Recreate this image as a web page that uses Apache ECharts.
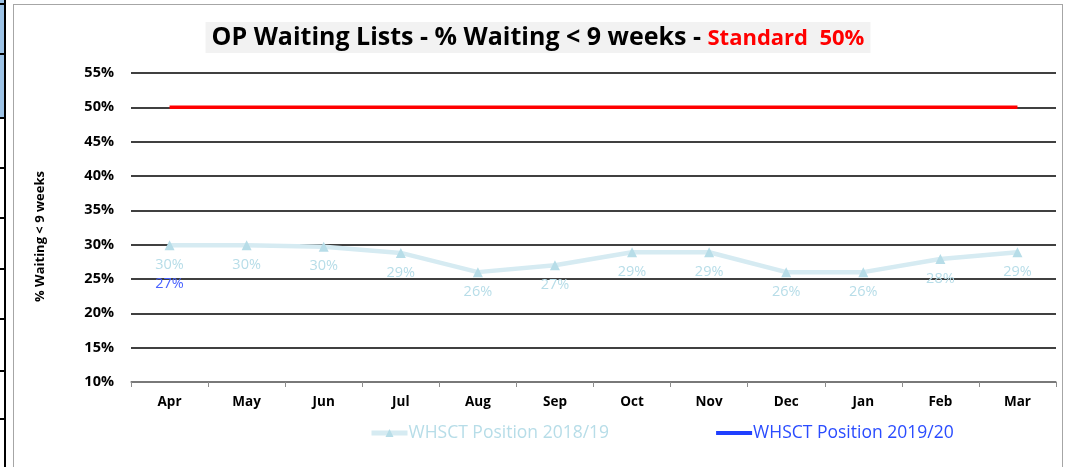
<!DOCTYPE html>
<html>
<head>
<meta charset="utf-8">
<script src="https://cdn.jsdelivr.net/npm/echarts@6/dist/echarts.min.js"></script>
<style>
	html, body { margin: 0; padding: 0; background: #fff; }
	#cells { position: absolute; left: 0; top: 0; width: 4px; height: 467px; border-right: 2px solid #000; }
	#cells .blue { position: absolute; left: 0; top: 0; width: 4px; height: 117px; background: #9dc3e6; }
	#cells .hl { position: absolute; left: 0; width: 4px; height: 2px; background: #000; }
	#main { position: absolute; left: 13px; top: 4px; width: 1048px; height: 470px; border: 1px solid #a6a6a6; background: #fff; }
</style>
</head>
<body>
<div id="cells"><div class="blue"></div></div>
<div id="main"></div>
<script>
	//月份
	var months = ['Apr', 'May', 'Jun', 'Jul', 'Aug', 'Sep', 'Oct', 'Nov', 'Dec', 'Jan', 'Feb', 'Mar'];
	//2018/19 数据
	var pos1819 = [29.9, 29.9, 29.7, 28.8, 26.0, 27.0, 28.9, 28.9, 26.0, 26.0, 27.9, 28.9];
	//2019/20 数据（只有四月）
	var pos1920 = [27, null, null, null, null, null, null, null, null, null, null, null];
	//标准线
	var standard = [50, 50, 50, 50, 50, 50, 50, 50, 50, 50, 50, 50];
	var yTicks = [10, 15, 20, 25, 30, 35, 40, 45, 50, 55];

	//左边表格的横线
	(function() {
		var cells = document.getElementById('cells');
		var ys = [3, 53, 117, 167, 217, 268, 318, 370, 418];
		for (var i = 0; i < ys.length; i++) {
			var d = document.createElement('div');
			d.className = 'hl';
			d.style.top = ys[i] + 'px';
			cells.appendChild(d);
		}
	})();

	var font = '"Open Sans", "Liberation Sans", sans-serif';
	var myChart = echarts.init(document.getElementById('main'));
	myChart.setOption({
		animation: false,
		textStyle: { fontFamily: font },
		title: {
			text: '{b|OP Waiting Lists - % Waiting < 9 weeks - }{r|Standard  50%}',
			left: 'center',
			top: 17,
			backgroundColor: '#f2f2f2',
			padding: [3, 6, 3, 6],
			textStyle: {
				rich: {
					b: { fontFamily: font, fontSize: 25, fontWeight: 'bold', color: '#000' },
					r: { fontFamily: font, fontSize: 22, fontWeight: 'bold', color: '#ff0000', padding: [3, 0, 0, 0] }
				}
			}
		},
		legend: {
			left: 350,
			bottom: 28,
			itemGap: 105,
			itemWidth: 36,
			itemHeight: 10,
			data: [
				{ name: 'WHSCT Position 2018/19', textStyle: { color: '#b7dde8' }, lineStyle: { width: 5 } },
				{ name: 'WHSCT Position 2019/20', textStyle: { color: '#2a4cff' }, lineStyle: { width: 4 }, itemStyle: { color: 'rgba(0,0,0,0)', borderWidth: 0 } }
			],
			textStyle: { fontSize: 17.5, fontFamily: font, padding: [0, 0, 0, -4] }
		},
		grid: { left: 117, right: 6, top: 68, bottom: 93 },
		xAxis: {
			type: 'category',
			data: months,
			boundaryGap: true,
			axisLine: { lineStyle: { color: '#8c8c8c', width: 1.5 } },
			axisTick: { show: true, length: 5, lineStyle: { color: '#8c8c8c' } },
			axisLabel: { color: '#000', fontWeight: 'bold', fontSize: 13.5, margin: 13 }
		},
		yAxis: {
			type: 'value',
			min: yTicks[0],
			max: yTicks[yTicks.length - 1],
			interval: 5,
			name: '% Waiting < 9 weeks',
			nameLocation: 'middle',
			nameGap: 84,
			nameRotate: 90,
			nameTextStyle: { color: '#000', fontWeight: 'bold', fontSize: 13, padding: [0, 18, 0, 0] },
			axisLine: { show: false },
			axisTick: { show: false },
			axisLabel: { color: '#000', fontWeight: 'bold', fontSize: 14.5, margin: 17, formatter: '{value}%' },
			splitLine: { lineStyle: { color: '#000', width: 1.5 } }
		},
		series: [{
			name: 'Standard',
			type: 'line',
			data: standard,
			symbol: 'none',
			lineStyle: { color: '#ff0000', width: 3.5 },
			z: 3
		}, {
			name: 'WHSCT Position 2018/19',
			type: 'line',
			data: pos1819,
			symbol: 'triangle',
			symbolSize: 10,
			itemStyle: { color: '#b7dde8' },
			lineStyle: { color: '#d6ebf2', width: 4.5 },
			label: {
				show: true,
				position: 'bottom',
				distance: 7,
				color: '#b7dde8',
				fontSize: 14.5,
				formatter: function(p) { return Math.round(p.value) + '%'; }
			},
			z: 4
		}, {
			name: 'WHSCT Position 2019/20',
			type: 'line',
			data: pos1920,
			symbol: 'circle',
			symbolSize: 0,
			itemStyle: { color: '#1f3fff' },
			lineStyle: { color: '#1f3fff', width: 3.5 },
			label: {
				show: true,
				position: 'bottom',
				distance: 11,
				color: '#4a63ff',
				fontSize: 14.5,
				formatter: function(p) { return Math.round(p.value) + '%'; }
			},
			z: 5
		}]
	});
</script>
</body>
</html>
